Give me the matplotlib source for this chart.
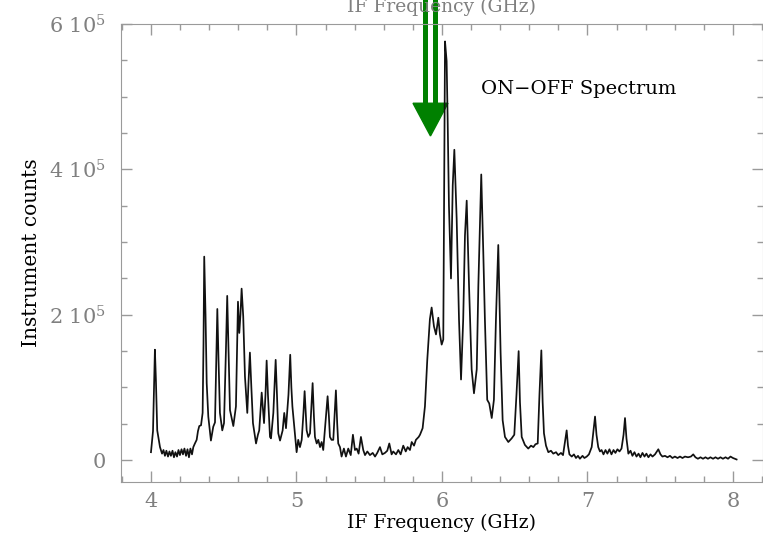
import numpy as np
import matplotlib.pyplot as plt
from matplotlib.patches import Polygon
from matplotlib.ticker import MultipleLocator, FuncFormatter

# IF frequency (GHz) and ON-OFF instrument counts (thousands)
freq = [
    4.000, 4.014, 4.024, 4.027, 4.034, 4.043, 4.062, 4.076, 4.086, 4.096,
    4.106, 4.117, 4.127, 4.137, 4.148, 4.158, 4.168, 4.179, 4.189, 4.199,
    4.210, 4.220, 4.230, 4.241, 4.251, 4.261, 4.271, 4.282, 4.291, 4.302,
    4.314, 4.323, 4.332, 4.344, 4.355, 4.361, 4.366, 4.375, 4.383, 4.394,
    4.412, 4.428, 4.440, 4.449, 4.456, 4.464, 4.474, 4.490, 4.502, 4.515,
    4.524, 4.533, 4.543, 4.566, 4.584, 4.591, 4.598, 4.607, 4.615, 4.623,
    4.634, 4.646, 4.662, 4.671, 4.680, 4.690, 4.701, 4.722, 4.735, 4.744,
    4.761, 4.777, 4.787, 4.795, 4.804, 4.818, 4.825, 4.841, 4.857, 4.866,
    4.875, 4.887, 4.905, 4.916, 4.928, 4.945, 4.957, 4.965, 4.972, 4.985,
    5.001, 5.012, 5.024, 5.036, 5.048, 5.056, 5.070, 5.081, 5.093, 5.103,
    5.111, 5.120, 5.127, 5.139, 5.150, 5.162, 5.173, 5.184, 5.203, 5.214,
    5.223, 5.230, 5.241, 5.253, 5.264, 5.271, 5.280, 5.287, 5.299, 5.310,
    5.326, 5.340, 5.356, 5.373, 5.388, 5.402, 5.414, 5.427, 5.443, 5.459,
    5.471, 5.487, 5.505, 5.524, 5.540, 5.555, 5.574, 5.590, 5.608, 5.624,
    5.638, 5.654, 5.665, 5.684, 5.700, 5.716, 5.734, 5.751, 5.764, 5.780,
    5.792, 5.808, 5.821, 5.840, 5.849, 5.867, 5.883, 5.899, 5.917, 5.929,
    5.945, 5.959, 5.975, 5.986, 5.998, 6.009, 6.016, 6.021, 6.032, 6.039,
    6.048, 6.062, 6.074, 6.085, 6.101, 6.117, 6.131, 6.146, 6.158, 6.170,
    6.186, 6.204, 6.220, 6.239, 6.250, 6.270, 6.284, 6.295, 6.311, 6.325,
    6.342, 6.357, 6.371, 6.387, 6.403, 6.417, 6.433, 6.456, 6.479, 6.497,
    6.512, 6.527, 6.536, 6.548, 6.570, 6.593, 6.612, 6.628, 6.643, 6.658,
    6.670, 6.683, 6.692, 6.701, 6.715, 6.731, 6.749, 6.765, 6.784, 6.799,
    6.818, 6.832, 6.845, 6.857, 6.866, 6.876, 6.892, 6.907, 6.921, 6.935,
    6.948, 6.966, 6.979, 6.995, 7.010, 7.029, 7.041, 7.052, 7.062, 7.074,
    7.086, 7.097, 7.110, 7.124, 7.137, 7.151, 7.165, 7.179, 7.192, 7.206,
    7.220, 7.234, 7.248, 7.258, 7.268, 7.281, 7.296, 7.309, 7.323, 7.337,
    7.351, 7.364, 7.378, 7.392, 7.405, 7.419, 7.433, 7.447, 7.464, 7.487,
    7.502, 7.515, 7.533, 7.550, 7.567, 7.584, 7.601, 7.619, 7.636, 7.653,
    7.670, 7.691, 7.711, 7.727, 7.742, 7.759, 7.777, 7.794, 7.811, 7.828,
    7.845, 7.863, 7.880, 7.897, 7.914, 7.931, 7.949, 7.966, 7.983, 8.000,
    8.025,
]
counts_k = [
    11, 40, 130, 152, 110, 41, 18, 9, 14, 6,
    13, 5, 12, 6, 13, 4, 11, 5, 14, 7,
    15, 8, 16, 6, 15, 4, 16, 8, 18, 23,
    28, 40, 47, 48, 65, 160, 280, 200, 106, 60,
    27, 46, 52, 140, 208, 140, 65, 41, 51, 150,
    226, 150, 69, 47, 74, 150, 218, 175, 200, 236,
    198, 115, 65, 110, 148, 100, 51, 23, 35, 41,
    93, 51, 90, 137, 90, 32, 30, 65, 138, 90,
    37, 27, 41, 65, 44, 90, 145, 100, 74, 46,
    11, 28, 18, 28, 65, 95, 41, 32, 37, 75,
    106, 60, 32, 23, 28, 18, 25, 14, 60, 88,
    60, 32, 28, 28, 70, 96, 50, 23, 18, 5,
    16, 5, 16, 7, 35, 14, 16, 9, 32, 14,
    7, 12, 7, 10, 5, 10, 18, 8, 10, 13,
    23, 8, 12, 8, 14, 8, 20, 12, 18, 14,
    25, 20, 28, 32, 35, 44, 74, 138, 194, 210,
    184, 173, 196, 173, 159, 166, 400, 576, 549, 470,
    350, 250, 378, 427, 332, 194, 111, 194, 309, 357,
    240, 125, 92, 125, 240, 393, 286, 194, 83, 78,
    58, 83, 194, 296, 148, 55, 32, 25, 30, 35,
    90, 150, 80, 32, 21, 16, 20, 18, 22, 23,
    90, 151, 80, 37, 20, 11, 13, 9, 11, 7,
    10, 7, 25, 41, 20, 8, 5, 8, 3, 6,
    2, 6, 3, 5, 8, 18, 40, 60, 35, 18,
    12, 14, 8, 14, 9, 15, 8, 14, 10, 15,
    12, 16, 35, 58, 30, 9, 13, 6, 11, 5,
    9, 4, 10, 5, 9, 4, 8, 5, 8, 15,
    8, 5, 6, 4, 6, 3, 5, 3, 5, 3,
    5, 4, 5, 8, 4, 2, 4, 2, 4, 2,
    4, 2, 4, 2, 4, 2, 4, 2, 5, 3,
    1,
]

# green marker arrow pointing at the main line
arrow_shafts = [5.880, 5.955]
arrow_head_x = (5.801, 6.041)
arrow_tip = (5.921, 446e3)
arrow_head_base = 491e3
arrow_top = 640e3

axis_grey = "#9a9a9a"
label_grey = "#808080"

plt.rcParams["font.family"] = "DejaVu Serif"
plt.rcParams["mathtext.fontset"] = "dejavuserif"

fig = plt.figure(figsize=(7.63, 5.35), dpi=100)
ax = fig.add_axes([121 / 763, 53 / 535, 641.5 / 763, 458 / 535])

ax.plot(freq, np.array(counts_k) * 1e3, color="#111111", lw=1.25)

ax.set_xlim(3.794, 8.203)
ax.set_ylim(-0.3e5, 6e5)

ax.xaxis.set_major_locator(MultipleLocator(1))
ax.xaxis.set_minor_locator(MultipleLocator(0.2))
ax.yaxis.set_major_locator(MultipleLocator(2e5))
ax.yaxis.set_minor_locator(MultipleLocator(0.5e5))


def sci_label(v, pos):
    if v == 0:
        return "0"
    return r"$\mathdefault{%d\ 10^{5}}$" % round(v / 1e5)


ax.yaxis.set_major_formatter(FuncFormatter(sci_label))

ax.tick_params(which="both", direction="in", top=True, right=True,
               color=axis_grey, labelcolor=label_grey, labelsize=15)
ax.tick_params(which="major", length=8, width=1)
ax.tick_params(which="minor", length=4.5, width=1)
ax.tick_params(axis="x", pad=7)
ax.tick_params(axis="y", pad=11)
for sp in ax.spines.values():
    sp.set_color(axis_grey)

ax.set_xlabel("IF Frequency (GHz)", fontsize=13.5, labelpad=2)
ax.set_ylabel("Instrument counts", fontsize=14.5, labelpad=6)

# top axis title, running off the top of the page
ax.annotate("IF Frequency (GHz)", xy=(0.5, 1.0), xycoords="axes fraction",
            xytext=(0, 9), textcoords="offset points",
            ha="center", va="baseline", fontsize=13.5, color=label_grey)

ax.text(6.268, 511e3, "ON\u2212OFF Spectrum", fontsize=14, ha="left", va="center")

for xs in arrow_shafts:
    ax.plot([xs, xs], [arrow_head_base, arrow_top], color="green", lw=3.6,
            solid_capstyle="butt", clip_on=False)
head = Polygon([(arrow_head_x[0], arrow_head_base),
                (arrow_head_x[1], arrow_head_base),
                arrow_tip], closed=True, color="green", clip_on=False)
ax.add_patch(head)

fig.savefig("out.png", dpi=100)
